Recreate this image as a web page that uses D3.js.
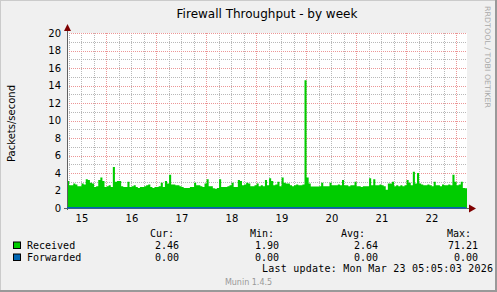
<!DOCTYPE html>
<html>
<head>
<meta charset="utf-8">
<script src="https://cdn.jsdelivr.net/npm/d3@7"></script>
<style>
  body { margin: 0; background: #fff; }
  svg text { font-family: "DejaVu Sans", sans-serif; }
  .mono { font-family: "DejaVu Sans Mono", monospace !important; font-size: 10px; fill: #000; }
</style>
</head>
<body>
<svg id="chart"></svg>
<script>
const title = 'Firewall Throughput - by week';
const yLabel = 'Packets/second';
const startTime = new Date(2026, 2, 15, 5, 5, 3);
const endTime = new Date(2026, 2, 23, 5, 5, 3);
const yTicks = [0, 2, 4, 6, 8, 10, 12, 14, 16, 18, 20];

// hourly averages, Received
const received = [
  3.1, 2.6, 2.6, 2.8, 2.7, 2.5, 2.5, 2.8, 2.7, 3.3, 3.2, 2.9, 2.8, 2.4, 2.5, 3.2, 3.5, 3.1, 2.4, 2.5, 2.6, 2.4, 4.7, 3.0,
  3.1, 3.1, 2.5, 2.4, 2.4, 3.0, 2.4, 2.5, 2.6, 2.4, 2.3, 2.4, 2.4, 2.5, 2.6, 2.7, 2.4, 2.3, 2.4, 2.4, 2.5, 2.9, 2.4, 3.1,
  2.8, 3.8, 2.7, 2.7, 2.6, 2.6, 2.5, 2.4, 2.3, 2.3, 2.3, 2.4, 2.4, 2.9, 2.6, 2.6, 2.5, 2.4, 2.8, 3.3, 2.5, 2.5, 2.25, 2.2,
  2.3, 3.3, 2.4, 2.4, 2.4, 2.5, 2.6, 2.9, 2.4, 2.4, 3.2, 3.1, 2.6, 2.7, 2.9, 2.8, 2.5, 2.5, 2.6, 2.8, 2.5, 2.6, 2.5, 3.2,
  2.6, 3.4, 3.1, 2.6, 2.7, 3.0, 2.5, 3.5, 2.9, 2.8, 2.8, 2.6, 2.5, 2.6, 2.7, 2.6, 2.6, 2.7, 14.6, 3.5, 2.8, 2.45, 2.45, 2.45,
  2.45, 2.5, 2.9, 2.5, 2.5, 2.5, 2.9, 2.6, 2.6, 2.6, 2.7, 2.6, 3.2, 2.6, 2.6, 2.5, 2.6, 2.6, 3.0, 2.5, 2.5, 2.4, 2.5, 2.5,
  2.5, 3.4, 2.6, 3.3, 2.6, 2.6, 2.7, 2.6, 2.5, 2.1, 2.8, 2.8, 3.0, 2.5, 2.6, 2.5, 2.6, 2.5, 2.6, 3.2, 2.9, 2.6, 4.15, 2.8,
  4.0, 2.8, 2.7, 2.6, 2.6, 2.7, 2.6, 2.5, 3.0, 2.6, 2.6, 2.5, 2.7, 2.6, 2.6, 2.7, 2.6, 3.8, 3.0, 2.6, 2.7, 3.0, 2.3, 2.25
];

const seriesNames = ['Received', 'Forwarded'];
const seriesColors = ['#00CC00', '#0066B3'];
const curValues = ['2.46', '0.00'];
const minValues = ['1.90', '0.00'];
const avgValues = ['2.64', '0.00'];
const maxValues = ['71.21', '0.00'];
const lastUpdate = 'Last update: Mon Mar 23 05:05:03 2026';

const W = 497, H = 292;
const plot = { left: 67, right: 467, top: 33, bottom: 208 };

const svg = d3.select('#chart').attr('width', W).attr('height', H);

// background with rrdtool style shading
svg.append('rect').attr('width', W).attr('height', H).attr('fill', '#F0F0F0');
svg.append('path').attr('d', `M0,${H} V0 H${W}`).attr('fill', 'none').attr('stroke', '#CBCBCB').attr('stroke-width', 2);
svg.append('path').attr('d', `M0,${H - 1} H${W - 1} V0`).attr('fill', 'none').attr('stroke', '#999999').attr('stroke-width', 2);

const x = d3.scaleTime().domain([startTime, endTime]).range([plot.left, plot.right]);
const y = d3.scaleLinear().domain([0, 20]).range([plot.bottom, plot.top]);

svg.append('rect')
  .attr('x', plot.left).attr('y', plot.top)
  .attr('width', plot.right - plot.left).attr('height', plot.bottom - plot.top)
  .attr('fill', '#fff');

const minorCol = '#B8B8B8', majorCol = '#EC9696';
const grid = svg.append('g');
// minor grid
d3.timeHour.every(6).range(startTime, endTime).forEach(t => {
  grid.append('line')
    .attr('x1', Math.round(x(t)) + 0.5).attr('x2', Math.round(x(t)) + 0.5)
    .attr('y1', plot.top).attr('y2', plot.bottom)
    .attr('stroke', minorCol).attr('stroke-dasharray', '1,1');
});
d3.range(1, 20, 2).forEach(v => {
  grid.append('line')
    .attr('x1', plot.left).attr('x2', plot.right)
    .attr('y1', Math.round(y(v)) + 0.5).attr('y2', Math.round(y(v)) + 0.5)
    .attr('stroke', minorCol).attr('stroke-dasharray', '1,1');
});
// major grid
d3.timeDay.range(startTime, endTime).forEach(t => {
  grid.append('line')
    .attr('x1', Math.round(x(t)) + 0.5).attr('x2', Math.round(x(t)) + 0.5)
    .attr('y1', plot.top).attr('y2', plot.bottom)
    .attr('stroke', majorCol).attr('stroke-dasharray', '1,1');
});
yTicks.filter(v => v > 0).forEach(v => {
  grid.append('line')
    .attr('x1', plot.left).attr('x2', plot.right)
    .attr('y1', Math.round(y(v)) + 0.5).attr('y2', Math.round(y(v)) + 0.5)
    .attr('stroke', majorCol).attr('stroke-dasharray', '1,1');
});

// received area
const pts = received.map((v, i) => ({ t: d3.timeHour.offset(startTime, i), v }));
pts.push({ t: endTime, v: received[received.length - 1] });
const area = d3.area()
  .curve(d3.curveStepAfter)
  .x(d => x(d.t))
  .y0(y(0))
  .y1(d => y(d.v));
svg.append('path').datum(pts).attr('d', area).attr('fill', seriesColors[0]);

// axes
svg.append('line')
  .attr('x1', plot.left + 0.5).attr('x2', plot.left + 0.5)
  .attr('y1', plot.bottom + 2).attr('y2', plot.top - 4)
  .attr('stroke', '#606060');
svg.append('path')
  .attr('d', `M${plot.left - 3},${plot.top - 2} L${plot.left + 0.5},${plot.top - 9} L${plot.left + 4},${plot.top - 2} Z`)
  .attr('fill', '#7F0000');
svg.append('line')
  .attr('x1', plot.left - 3).attr('x2', plot.right + 3)
  .attr('y1', plot.bottom + 0.5).attr('y2', plot.bottom + 0.5)
  .attr('stroke', '#606060');
// forwarded line (zero)
svg.append('line')
  .attr('x1', x(startTime)).attr('x2', x(endTime) - 1)
  .attr('y1', y(0) - 0.3).attr('y2', y(0) - 0.3)
  .attr('stroke', seriesColors[1]).attr('stroke-width', 1.6);
svg.append('path')
  .attr('d', `M${plot.right + 2},${plot.bottom - 3.5} L${plot.right + 9},${plot.bottom + 0.5} L${plot.right + 2},${plot.bottom + 4.5} Z`)
  .attr('fill', '#7F0000');

const yAxis = svg.append('g')
  .attr('transform', `translate(${plot.left},0)`)
  .call(d3.axisLeft(y).tickValues(yTicks).tickSize(0).tickPadding(6));
yAxis.select('.domain').remove();
yAxis.selectAll('text').attr('font-size', 10).attr('font-family', 'DejaVu Sans').attr('fill', '#000');

// day labels sit at noon of each day
const noonTicks = d3.timeDay.range(d3.timeDay.floor(startTime), endTime)
  .map(d => d3.timeHour.offset(d, 12))
  .filter(d => d > startTime && d < endTime);
const xAxis = svg.append('g')
  .attr('transform', `translate(0,${plot.bottom})`)
  .call(d3.axisBottom(x).tickValues(noonTicks)
    .tickFormat(d3.timeFormat('%d')).tickSize(0).tickPadding(6.5));
xAxis.select('.domain').remove();
xAxis.selectAll('text').attr('font-size', 10).attr('font-family', 'DejaVu Sans').attr('fill', '#000');

// titles
svg.append('text')
  .attr('x', (plot.left + plot.right) / 2).attr('y', 18)
  .attr('text-anchor', 'middle').attr('font-size', 12)
  .text(title);
svg.append('text')
  .attr('transform', `translate(14.5,${(plot.top + plot.bottom) / 2 + 3}) rotate(-90)`)
  .attr('text-anchor', 'middle').attr('font-size', 10)
  .text(yLabel);
svg.append('text')
  .attr('transform', 'translate(485,6) rotate(90)')
  .attr('font-size', 7.5).attr('fill', '#A8A8A8')
  .attr('textLength', 102).attr('lengthAdjust', 'spacingAndGlyphs')
  .text('RRDTOOL / TOBI OETIKER');

// legend
const leg = svg.append('g');
const headerY = 237, rowY = [248.5, 260.5], lastY = 272.3;
[['Cur:', 150], ['Min:', 250], ['Avg:', 341], ['Max:', 447]].forEach(([t, px]) => {
  leg.append('text').attr('class', 'mono').attr('x', px).attr('y', headerY).text(t);
});
const cols = [[curValues, 179], [minValues, 279], [avgValues, 378], [maxValues, 478]];
seriesNames.forEach((name, i) => {
  leg.append('rect')
    .attr('x', 13.5).attr('y', rowY[i] - 6.5).attr('width', 7).attr('height', 6.5)
    .attr('fill', seriesColors[i]).attr('stroke', '#000').attr('stroke-width', 1);
  leg.append('text').attr('class', 'mono').attr('x', 27).attr('y', rowY[i]).text(name);
  cols.forEach(([vals, px]) => {
    leg.append('text').attr('class', 'mono').attr('x', px).attr('y', rowY[i])
      .attr('text-anchor', 'end').text(vals[i]);
  });
});
leg.append('text').attr('class', 'mono').attr('x', 262).attr('y', lastY)
  .attr('textLength', 231).attr('lengthAdjust', 'spacing').text(lastUpdate);
svg.append('text')
  .attr('x', 248.5).attr('y', 285).attr('text-anchor', 'middle')
  .attr('font-size', 8).attr('fill', '#999')
  .text('Munin 1.4.5');
</script>
</body>
</html>
